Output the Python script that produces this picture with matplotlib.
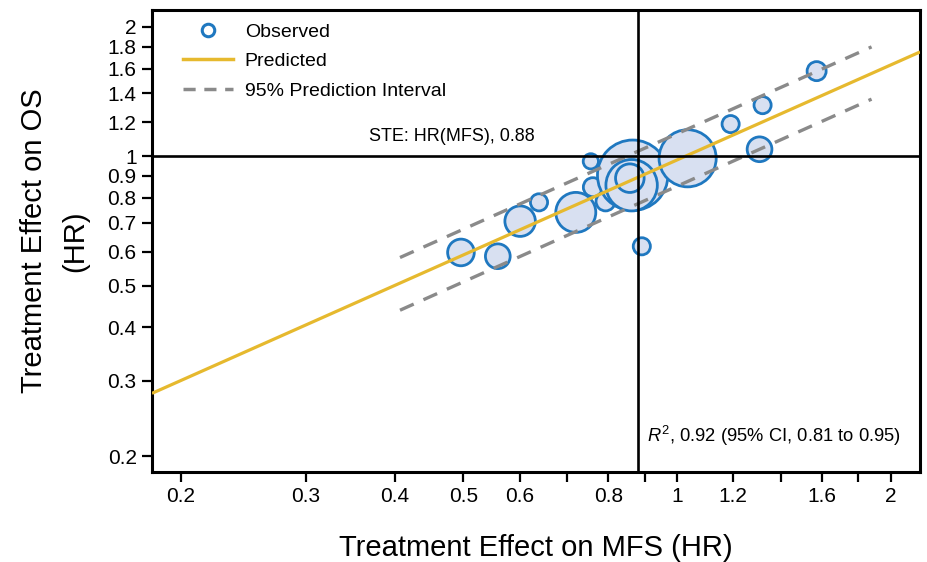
import matplotlib
matplotlib.use("Agg")
import matplotlib.pyplot as plt
from matplotlib.lines import Line2D
from matplotlib.ticker import FixedLocator, NullLocator, FixedFormatter

plt.rcParams['font.family'] = ['Liberation Sans', 'DejaVu Sans']
plt.rcParams['mathtext.fontset'] = 'custom'
plt.rcParams['mathtext.rm'] = 'Liberation Sans'
plt.rcParams['mathtext.it'] = 'Liberation Sans:italic'

# ---- data ----
mfs_hr = [0.496, 0.559, 0.601, 0.639, 0.720, 0.761, 0.793, 0.756,
          0.866, 0.863, 0.858, 1.035, 0.892, 1.19, 1.32, 1.307, 1.573]
os_hr = [0.597, 0.585, 0.706, 0.781, 0.740, 0.847, 0.785, 0.973,
         0.903, 0.856, 0.889, 0.989, 0.617, 1.188, 1.315, 1.038, 1.578]
trial_weight = [196, 169, 256, 81, 441, 100, 100, 64,
                1369, 729, 225, 900, 81, 81, 81, 169, 100]

pred_x = [0.182, 2.2]
pred_y = [0.2805, 1.749]
pi_x = [0.407, 1.88]
pi_upper = [0.581, 1.797]
pi_lower = [0.438, 1.358]

ste = 0.88
x_ticks = [0.2, 0.3, 0.4, 0.5, 0.6, 0.7, 0.8, 0.9, 1, 1.2, 1.4, 1.6, 1.8, 2]
x_tick_labels = ['0.2', '0.3', '0.4', '0.5', '0.6', '', '0.8', '', '1', '1.2', '', '1.6', '', '2']
y_ticks = [0.2, 0.3, 0.4, 0.5, 0.6, 0.7, 0.8, 0.9, 1, 1.2, 1.4, 1.6, 1.8, 2]
y_tick_labels = ['0.2', '0.3', '0.4', '0.5', '0.6', '0.7', '0.8', '0.9', '1', '1.2', '1.4', '1.6', '1.8', '2']

# ---- styles ----
BLUE = '#1f78c0'
FACE = '#d8e0f1'
GOLD = '#e6b92e'
GRAY = '#8a8a8a'

fig = plt.figure(figsize=(9.28, 5.62), dpi=100)
ax = fig.add_axes([152/928, 1-472/562, (920-152)/928, (472-10)/562])
ax.set_xscale('log')
ax.set_yscale('log')
ax.set_xlim(0.182, 2.2)
ax.set_ylim(0.184, 2.19)

sizes = [1.88 * w for w in trial_weight]
ax.scatter(mfs_hr, os_hr, s=sizes, facecolor=FACE, edgecolor=BLUE, linewidth=2.0, zorder=2)

ax.plot(pred_x, pred_y, color=GOLD, lw=2.3, zorder=3, solid_capstyle='butt')
ax.plot(pi_x, pi_upper, color=GRAY, lw=2.4, ls=(0, (4.5, 3.2)), zorder=3)
ax.plot(pi_x, pi_lower, color=GRAY, lw=2.4, ls=(0, (4.5, 3.2)), zorder=3)

ax.axhline(1, color='black', lw=1.9, zorder=4)
ax.axvline(ste, color='black', lw=1.9, zorder=4)

ax.text(0.630, 1.112, 'STE: HR(MFS), 0.88', ha='right', va='center', fontsize=13)
ax.text(0.906, 0.2237, r'$R^2$, 0.92 (95% CI, 0.81 to 0.95)', ha='left', va='center', fontsize=13.2)

ax.xaxis.set_major_locator(FixedLocator(x_ticks))
ax.xaxis.set_major_formatter(FixedFormatter(x_tick_labels))
ax.xaxis.set_minor_locator(NullLocator())
ax.yaxis.set_major_locator(FixedLocator(y_ticks))
ax.yaxis.set_major_formatter(FixedFormatter(y_tick_labels))
ax.yaxis.set_minor_locator(NullLocator())
ax.tick_params(axis='both', which='major', direction='out', length=7, width=1.6,
               labelsize=15, pad=4, color='black')

for sp in ax.spines.values():
    sp.set_linewidth(2.2)
    sp.set_color('black')

ax.set_xlabel('Treatment Effect on MFS (HR)', fontsize=21, labelpad=20)
ax.set_ylabel('Treatment Effect on OS\n(HR)', fontsize=21, linespacing=1.62, labelpad=13)

handles = [
    Line2D([], [], ls='none', marker='o', markersize=9, markerfacecolor='white',
           markeredgecolor=BLUE, markeredgewidth=2.2),
    Line2D([], [], color=GOLD, lw=2.5),
    Line2D([], [], color=GRAY, lw=2.5, ls=(0, (3.5, 2.5))),
]
leg = ax.legend(handles, ['Observed', 'Predicted', '95% Prediction Interval'],
                loc='upper left', bbox_to_anchor=(183/928, 1-23/562), bbox_transform=fig.transFigure,
                frameon=False, fontsize=14, handlelength=2.55, handletextpad=0.62,
                labelspacing=0.62, borderaxespad=0, borderpad=0)

fig.savefig('out.png', dpi=100)
